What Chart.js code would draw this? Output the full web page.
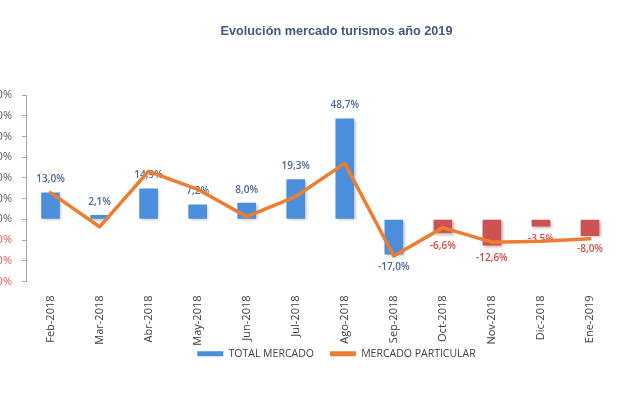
<!DOCTYPE html>
<html>
<head>
<meta charset="utf-8">
<script src="https://cdn.jsdelivr.net/npm/chart.js@4"></script>
<style>
  html, body { margin: 0; padding: 0; width: 643px; height: 397px; overflow: hidden; background: #ffffff; }
  #c { position: absolute; left: -40px; top: 0; }
</style>
</head>
<body>
<canvas id="c" width="753" height="397"></canvas>
<script>
const categories = ['Feb-2018','Mar-2018','Abr-2018','May-2018','Jun-2018','Jul-2018','Ago-2018','Sep-2018','Oct-2018','Nov-2018','Dic-2018','Ene-2019'];
const totalMercado = [13.0, 2.1, 14.9, 7.2, 8.0, 19.3, 48.7, -17.0, -6.6, -12.6, -3.5, -8.0];
const mercadoParticular = [12.9, -3.6, 23.2, 14.5, 1.3, 11.0, 27.0, -17.7, -4.0, -11.0, -10.6, -9.4];
const yTicks = [-30, -20, -10, 0, 10, 20, 30, 40, 50, 60];
const seriesNames = ['TOTAL MERCADO', 'MERCADO PARTICULAR'];
const chartTitle = 'Evolución mercado turismos año 2019';
const redFromCategory = 'Oct-2018';

const BLUE = '#4A8EDC';
const RED = '#CD5352';
const ORANGE = '#ED7D31';
const LABEL_BLUE = '#4A6796';
const LABEL_RED = '#D04848';
const redStart = categories.indexOf(redFromCategory);
const isRed = i => i >= redStart;
const fmt = v => v.toFixed(1).replace('.', ',') + '%';

Chart.defaults.font.family = "'Open Sans', sans-serif";

const barLabels = {
  id: 'barLabels',
  afterLayout(chart) {
    const lg = chart.legend;
    if (lg) { lg.top -= 19; lg.bottom -= 19; }
  },
  beforeDatasetDraw(chart, args) {
    if (args.index !== 0) return;
    const ctx = chart.ctx;
    ctx.save();
    ctx.shadowColor = 'rgba(0,0,0,0.28)';
    ctx.shadowBlur = 3;
    ctx.shadowOffsetX = 1.5;
    ctx.shadowOffsetY = 1.5;
  },
  afterDatasetDraw(chart, args) {
    if (args.index !== 0) return;
    const ctx = chart.ctx;
    ctx.restore();
    const meta = chart.getDatasetMeta(0);
    ctx.save();
    ctx.font = "600 10px 'Open Sans', sans-serif";
    ctx.textAlign = 'center';
    ctx.textBaseline = 'middle';
    meta.data.forEach((el, i) => {
      const v = totalMercado[i];
      const y = v >= 0 ? el.y - 13 : el.y + 13;
      ctx.fillStyle = isRed(i) ? LABEL_RED : LABEL_BLUE;
      ctx.fillText(fmt(v), el.x, y);
    });
    ctx.restore();
  }
};

new Chart(document.getElementById('c'), {
  type: 'bar',
  data: {
    labels: categories,
    datasets: [
      {
        label: seriesNames[0],
        data: totalMercado,
        backgroundColor: c => isRed(c.dataIndex) ? RED : BLUE,
        borderWidth: 0,
        barPercentage: 0.38,
        categoryPercentage: 1.0,
        order: 1
      },
      {
        type: 'line',
        label: seriesNames[1],
        data: mercadoParticular,
        borderColor: ORANGE,
        backgroundColor: ORANGE,
        borderWidth: 3.5,
        pointRadius: 0,
        tension: 0,
        borderJoinStyle: 'round',
        borderCapStyle: 'round',
        fill: false,
        order: 0
      }
    ]
  },
  options: {
    responsive: false,
    animation: false,
    layout: { padding: { left: 0, right: 0, top: 0, bottom: 9 } },
    plugins: {
      title: {
        display: true,
        text: chartTitle,
        color: '#44577F',
        font: { family: "'Liberation Sans', Arial, sans-serif", size: 12.7, weight: 'bold' },
        padding: { top: 23.4, bottom: 56.4 }
      },
      legend: {
        position: 'bottom',
        labels: {
          color: '#404040',
          font: { size: 10.5 },
          boxWidth: 26,
          boxHeight: 5,
          padding: 16,
          generateLabels: () => [
            { text: seriesNames[0], fillStyle: BLUE, strokeStyle: BLUE, lineWidth: 0, datasetIndex: 0, hidden: false, fontColor: '#404040' },
            { text: seriesNames[1], fillStyle: ORANGE, strokeStyle: ORANGE, lineWidth: 0, datasetIndex: 1, hidden: false, fontColor: '#404040' }
          ]
        }
      },
      tooltip: { enabled: false }
    },
    scales: {
      x: {
        grid: { display: false },
        border: { display: false },
        ticks: {
          color: '#404040',
          font: { size: 11 },
          autoSkip: false,
          maxRotation: 90,
          minRotation: 90,
          padding: 6
        },
        afterFit: s => { s.height = 70; }
      },
      y: {
        min: yTicks[0],
        max: yTicks[yTicks.length - 1],
        afterBuildTicks: s => { s.ticks = yTicks.map(v => ({ value: v })); },
        grid: { drawOnChartArea: false, drawTicks: true, tickLength: 4, color: '#A6A6A6' },
        border: { display: true, color: '#A6A6A6', width: 1 },
        ticks: {
          padding: 10,
          font: { size: 11 },
          color: c => c.tick.value < 0 ? '#E05A5A' : '#595959',
          callback: v => fmt(v)
        },
        afterFit: s => { s.width = 66; }
      },
      yR: {
        position: 'right',
        display: true,
        grid: { display: false },
        border: { display: false },
        ticks: { display: false },
        afterFit: s => { s.width = 98.5; }
      }
    }
  },
  plugins: [barLabels]
});
</script>
</body>
</html>
